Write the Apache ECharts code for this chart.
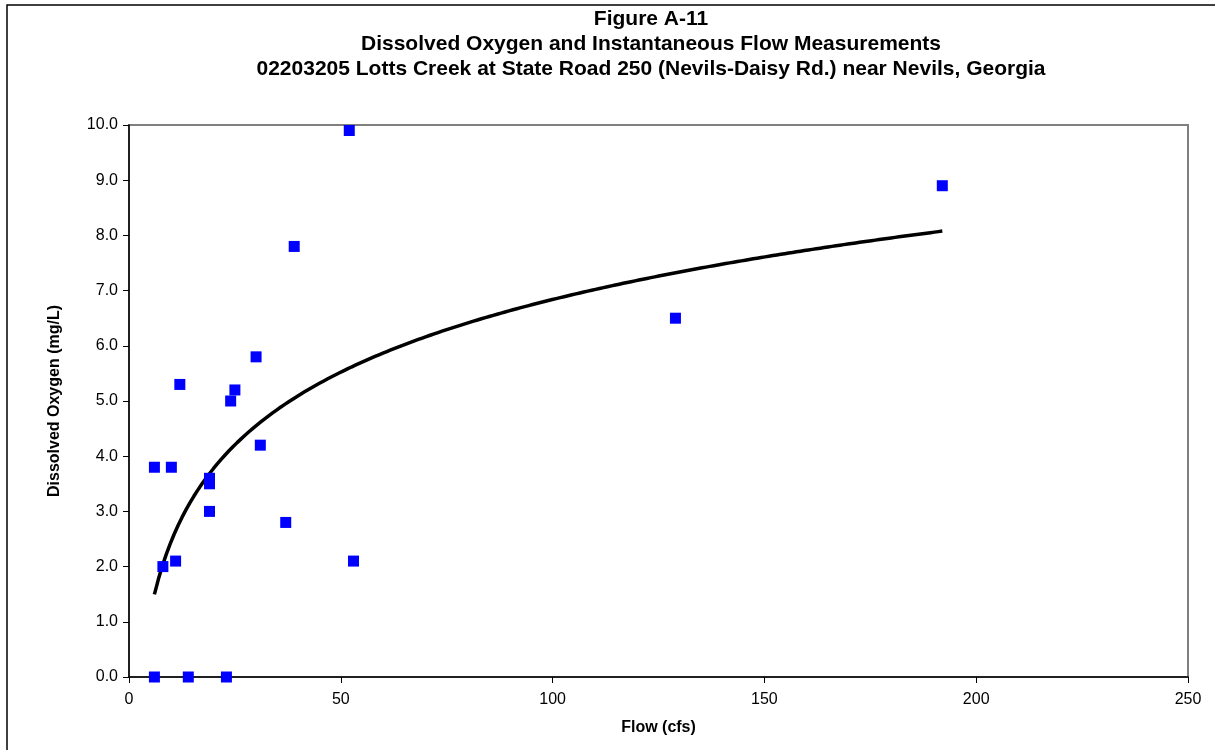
<!DOCTYPE html>
<html>
<head>
<meta charset="utf-8">
<script src="https://cdn.jsdelivr.net/npm/echarts@6/dist/echarts.min.js"></script>
<style>html,body{margin:0;padding:0;background:#fff}#c{width:1215px;height:750px}</style>
</head>
<body>
<div id="c"></div>
<script>
var titleLines = ["Figure A-11", "Dissolved Oxygen and Instantaneous Flow Measurements", "02203205 Lotts Creek at State Road 250 (Nevils-Daisy Rd.) near Nevils, Georgia"];
var xAxisName = "Flow (cfs)";
var yAxisName = "Dissolved Oxygen (mg/L)";
var flow = [6, 14, 23, 6, 10, 8, 11, 12, 19, 19, 19, 24, 25, 30, 31, 37, 39, 52, 53, 129, 192];
var dissolvedOxygen = [0, 0, 0, 3.8, 3.8, 2.0, 2.1, 5.3, 3.6, 3.5, 3.0, 5.0, 5.2, 5.8, 4.2, 2.8, 7.8, 9.9, 2.1, 6.5, 8.9];

// Logarithmic least-squares trendline fitted to the data (as in the original spreadsheet chart)
var n = flow.length, sL = 0, sY = 0;
for (var i = 0; i < n; i++) { sL += Math.log(flow[i]); sY += dissolvedOxygen[i]; }
var mL = sL / n, mY = sY / n, sxx = 0, sxy = 0;
for (var i = 0; i < n; i++) { var d = Math.log(flow[i]) - mL; sxx += d * d; sxy += d * (dissolvedOxygen[i] - mY); }
var slope = sxy / sxx, intercept = mY - slope * mL;
var xmin = Math.min.apply(null, flow), xmax = Math.max.apply(null, flow);
var trend = [];
for (var k = 0; k <= 200; k++) {
  var x = xmin + (xmax - xmin) * k / 200;
  trend.push([x, slope * Math.log(x) + intercept]);
}
var pts = flow.map(function (f, i) { return [f, dissolvedOxygen[i]]; });

var chart = echarts.init(document.getElementById('c'));
chart.setOption({
  animation: false,
  backgroundColor: '#fff',
  title: {
    text: titleLines.join('\n'),
    left: 646, top: 2, textAlign: 'center',
    textStyle: { fontFamily: 'Liberation Sans', fontWeight: 'bold', fontSize: 21, lineHeight: 25, color: '#000' }
  },
  graphic: [{
    type: 'rect', shape: { x: 7, y: 5, width: 1220, height: 760 },
    style: { fill: 'none', stroke: '#000', lineWidth: 1.5 }, silent: true, z: 100
  }],
  grid: { left: 129, right: 27, top: 125, bottom: 73, show: true, borderColor: '#808080', borderWidth: 2, backgroundColor: '#fff' },
  xAxis: {
    type: 'value', min: 0, max: 250, interval: 50,
    name: xAxisName, nameLocation: 'middle', nameGap: 43,
    nameTextStyle: { fontFamily: 'Liberation Sans', fontWeight: 'bold', fontSize: 16, color: '#000' },
    axisLine: { show: true, lineStyle: { color: '#000', width: 1.5 } },
    axisTick: { show: true, length: 6, lineStyle: { color: '#000' } },
    axisLabel: { fontFamily: 'Liberation Sans', fontSize: 16, color: '#000', margin: 15 },
    splitLine: { show: false }
  },
  yAxis: {
    type: 'value', min: 0, max: 10, interval: 1,
    name: yAxisName, nameLocation: 'middle', nameGap: 66, nameRotate: 90,
    nameTextStyle: { fontFamily: 'Liberation Sans', fontWeight: 'bold', fontSize: 16, color: '#000' },
    axisLine: { show: true, lineStyle: { color: '#000', width: 1.5 } },
    axisTick: { show: true, length: 6, lineStyle: { color: '#000' } },
    axisLabel: { fontFamily: 'Liberation Sans', fontSize: 16, color: '#000', margin: 11, formatter: function (v) { return v.toFixed(1); } },
    splitLine: { show: false }
  },
  series: [{
    type: 'line', data: trend, showSymbol: false, smooth: false,
    lineStyle: { color: '#000', width: 3.5 }, z: 2
  }, {
    type: 'scatter', data: pts, symbol: 'rect', symbolSize: 11,
    itemStyle: { color: '#0000FF', opacity: 1 }, z: 3
  }]
});
</script>
</body>
</html>
